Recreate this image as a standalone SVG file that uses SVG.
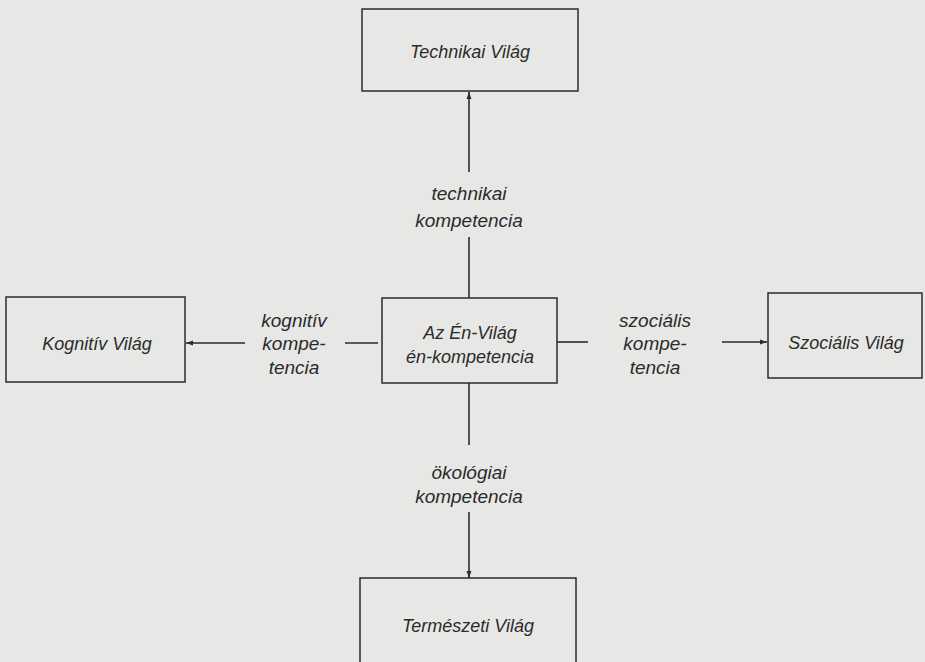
<svg xmlns="http://www.w3.org/2000/svg" width="925" height="662" viewBox="0 0 925 662">
<style>
.box{fill:none;stroke:#2b2b2b;stroke-width:1.5}
.lbl{font-family:"Liberation Sans",Arial,sans-serif;font-style:italic;fill:#2b2b2b;text-anchor:middle}
.nd{font-size:18px}
.cn{font-size:19px}
.ln{stroke:#2b2b2b;stroke-width:1.6;fill:none}
</style>
<defs>
<marker id="ah" viewBox="0 0 10 10" refX="10" refY="5" markerWidth="7" markerHeight="7" orient="auto" markerUnits="userSpaceOnUse">
<path d="M0,1.5 L10,5 L0,8.5 Z" fill="#2b2b2b"/>
</marker>
</defs>
<rect width="925" height="662" fill="#e7e7e5"/>
<g id="connectors">
<line class="ln" x1="469" y1="172" x2="469" y2="92" marker-end="url(#ah)"/>
<line class="ln" x1="469" y1="237" x2="469" y2="298"/>
<text class="lbl cn" x="469" y="200">technikai</text>
<text class="lbl cn" x="469" y="227">kompetencia</text>
<line class="ln" x1="469" y1="383" x2="469" y2="445"/>
<line class="ln" x1="469" y1="512" x2="469" y2="578" marker-end="url(#ah)"/>
<text class="lbl cn" x="469" y="479">ökológiai</text>
<text class="lbl cn" x="469" y="503">kompetencia</text>
<line class="ln" x1="378" y1="343" x2="345" y2="343"/>
<line class="ln" x1="245" y1="343" x2="186" y2="343" marker-end="url(#ah)"/>
<text class="lbl cn" x="294" y="327">kognitív</text>
<text class="lbl cn" x="294" y="350">kompe-</text>
<text class="lbl cn" x="294" y="374">tencia</text>
<line class="ln" x1="557" y1="342" x2="588" y2="342"/>
<line class="ln" x1="722" y1="342" x2="767" y2="342" marker-end="url(#ah)"/>
<text class="lbl cn" x="655" y="327">szociális</text>
<text class="lbl cn" x="655" y="350">kompe-</text>
<text class="lbl cn" x="655" y="374">tencia</text>
</g>
<g id="technikai">
<rect class="box" x="362" y="9" width="216" height="82"/>
<text class="lbl nd" x="470" y="58">Technikai Világ</text>
</g>
<g id="en">
<rect class="box" x="382" y="298" width="175" height="85"/>
<text class="lbl nd" x="470" y="339">Az Én-Világ</text>
<text class="lbl nd" x="470" y="363">én-kompetencia</text>
</g>
<g id="kognitiv">
<rect class="box" x="6" y="297" width="179" height="85"/>
<text class="lbl nd" x="97" y="350">Kognitív Világ</text>
</g>
<g id="szocialis">
<rect class="box" x="768" y="293" width="154" height="85"/>
<text class="lbl nd" x="846" y="349">Szociális Világ</text>
</g>
<g id="termeszeti">
<rect class="box" x="360" y="578" width="216" height="100"/>
<text class="lbl nd" x="468" y="632">Természeti Világ</text>
</g>
</svg>
